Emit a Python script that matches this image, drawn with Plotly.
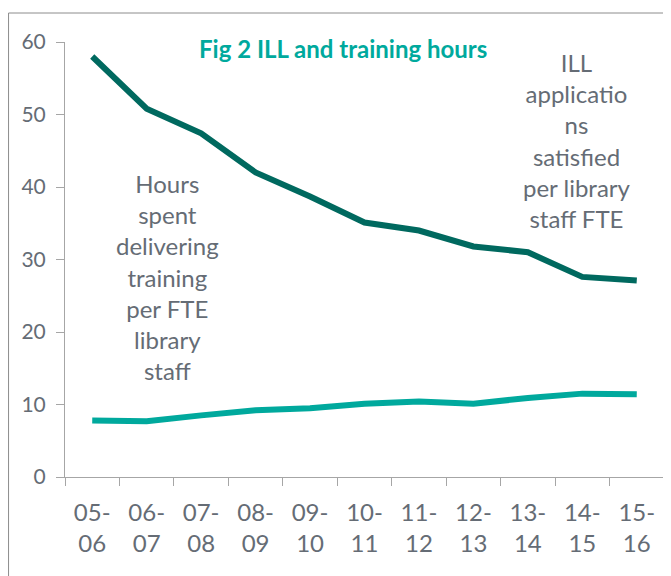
import plotly.graph_objects as go

years = ["05-<br>06", "06-<br>07", "07-<br>08", "08-<br>09", "09-<br>10", "10-<br>11",
         "11-<br>12", "12-<br>13", "13-<br>14", "14-<br>15", "15-<br>16"]
ill_per_fte = [58.0, 50.8, 47.4, 42.0, 38.7, 35.1, 34.0, 31.8, 31.0, 27.6, 27.1]
training_hours = [7.8, 7.7, 8.5, 9.2, 9.5, 10.1, 10.4, 10.1, 10.9, 11.5, 11.4]
y_ticks = [0, 10, 20, 30, 40, 50, 60]

FONT = "Lato"
GREY = "#656c75"
AXIS = "#a6a6a6"

# plot area in page pixels (page has an 8px body margin)
PX0, PX1, PY0, PY1 = 65, 664.5, 42, 477
W, H = 671, 576
L, T = PX0 - 8, PY0 - 8
R = W - (PX1 - 8)
B = H - (PY1 - 8)
PW, PH = PX1 - PX0, PY1 - PY0


def px(x):
    return (x - PX0) / PW


def py(y):
    return 1 - (y - PY0) / PH


fig = go.Figure()
fig.add_trace(go.Scatter(x=years, y=ill_per_fte, mode="lines",
                         line=dict(color="#00695f", width=6), name="ILL"))
fig.add_trace(go.Scatter(x=years, y=training_hours, mode="lines",
                         line=dict(color="#00a99d", width=6), name="Training"))

fig.update_layout(
    width=W, height=H,
    margin=dict(l=L, r=R, t=T, b=B),
    paper_bgcolor="white", plot_bgcolor="white",
    showlegend=False,
    font=dict(family=FONT, color=GREY),
)
fig.update_xaxes(
    type="category", range=[-0.5, len(years) - 0.5], showgrid=False, showline=True,
    linecolor=AXIS, linewidth=1, ticks="outside", ticklen=8, tickcolor=AXIS,
    tickson="boundaries", ticklabelstandoff=14,
    tickfont=dict(family=FONT, size=24, color=GREY), zeroline=False,
)
fig.update_yaxes(
    range=[0, 60], tickvals=y_ticks, showgrid=False, showline=True, linecolor=AXIS,
    linewidth=1, ticks="outside", ticklen=8, tickcolor=AXIS, zeroline=False,
    ticklabelstandoff=6,
    tickfont=dict(family=FONT, size=21, color=GREY),
)

ann = dict(xref="paper", yref="paper", showarrow=False, xanchor="center",
           yanchor="middle", align="center")
fig.add_annotation(text="<b>Fig 2 ILL and training hours</b>", x=px(343), y=py(48),
                   font=dict(family=FONT, size=24, color="#00a99d"), **ann)
fig.add_annotation(text="Hours<br>spent<br>delivering<br>training<br>per FTE<br>library<br>staff",
                   x=px(168), y=py(277), font=dict(family=FONT, size=24, color=GREY), **ann)
fig.add_annotation(text="ILL<br>applicatio<br>ns<br>satisfied<br>per library<br>staff FTE",
                   x=px(577), y=py(140), font=dict(family=FONT, size=24, color=GREY), **ann)

fig.add_shape(type="rect", xref="paper", yref="paper",
              x0=px(8.5), x1=1.3, y0=-0.5, y1=py(13),
              line=dict(color="#8c8c8c", width=1), layer="below")

fig.write_html("out.html")
